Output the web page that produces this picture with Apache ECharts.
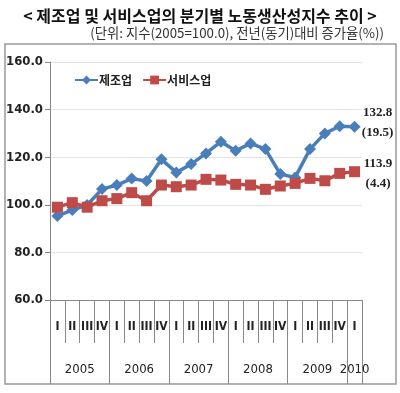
<!DOCTYPE html>
<html><head><meta charset="utf-8">
<script src="https://cdn.jsdelivr.net/npm/echarts@6/dist/echarts.min.js"></script>
<style>html,body{margin:0;padding:0;background:#fff}#c{width:400px;height:393px}</style>
</head><body><div id="c"></div>
<script>
var quarters = ['I','II','III','IV','I','II','III','IV','I','II','III','IV','I','II','III','IV','I','II','III','IV','I'];
var years = ['2005','2006','2007','2008','2009','2010'];
var quartersPerYear = [4,4,4,4,4,1];
var manufacturing = [95.3, 97.8, 99.9, 106.6, 108.3, 111.0, 110.0, 119.1, 113.6, 117.1, 121.6, 126.5, 122.7, 125.8, 123.4, 112.9, 111.5, 123.4, 130.0, 133.0, 132.8];
var services = [99.0, 100.9, 99.0, 101.7, 102.6, 105.1, 101.7, 108.3, 107.6, 108.3, 110.7, 110.4, 108.6, 108.3, 106.5, 107.9, 109.0, 111.1, 110.1, 113.2, 113.9];
var growthManufacturing = '19.5';
var growthServices = '4.4';
var yTicks = [60, 80, 100, 120, 140, 160];

var boundaries = [0], centers = [], acc = 0;
quartersPerYear.forEach(function(n){ centers.push(acc + n/2); acc += n; boundaries.push(acc); });

function lastLabel(data, growth, off){
  return data.map(function(v, i){
    if (i !== data.length - 1) return v;
    return {value: v, label: {show: true, position: 'right', distance: 0, align: 'center', offset: off,
      formatter: v.toFixed(1) + '\n(' + growth + ')', fontFamily: 'Liberation Serif', fontWeight: 'bold',
      fontSize: 13, lineHeight: 20, color: '#222'}};
  });
}

var chart = echarts.init(document.getElementById('c'), null, {renderer: 'canvas'});
chart.setOption({
  animation: false,
  title: [{
    text: '< 제조업 및 서비스업의 분기별 노동생산성지수 추이 >', left: 'center', top: 3,
    textStyle: {fontFamily: 'Noto Sans CJK KR', fontSize: 16, fontWeight: 'bold', color: '#111'}
  }, {
    text: '(단위: 지수(2005=100.0), 전년(동기)대비 증가율(%))', right: 11, top: 21,
    textStyle: {fontFamily: 'Noto Sans CJK KR', fontSize: 13.3, fontWeight: 'normal', color: '#333'}
  }],
  graphic: [{type: 'rect', shape: {x: 5, y: 44, width: 391, height: 340},
    style: {fill: 'none', stroke: '#999', lineWidth: 1.5}, silent: true}],
  legend: {
    left: 69, top: 69, itemWidth: 23, itemHeight: 11, itemGap: 10,
    textStyle: {fontFamily: 'Noto Sans CJK KR', fontSize: 12, fontWeight: 'bold', color: '#222', padding: [0, 0, 0, -4]},
    data: ['제조업', '서비스업']
  },
  grid: {left: 50, right: 38, top: 62, bottom: 93, containLabel: false},
  xAxis: [{
    type: 'category', data: quarters, boundaryGap: true, position: 'bottom',
    axisLine: {show: true, lineStyle: {color: '#888', width: 1}},
    axisTick: {show: true, interval: 0, length: 43, lineStyle: {color: '#888'}},
    axisLabel: {interval: 0, margin: 21, fontFamily: 'DejaVu Sans Condensed', fontWeight: 'bold', fontSize: 12, color: '#222'},
    splitLine: {show: false}
  }, {
    type: 'value', min: 0, max: quarters.length, position: 'bottom',
    axisLine: {show: false},
    axisTick: {show: true, customValues: boundaries, length: 84, lineStyle: {color: '#888'}},
    axisLabel: {customValues: centers, margin: 63, fontFamily: 'DejaVu Sans Condensed', fontSize: 13, color: '#222',
      formatter: function(v){ var i = centers.indexOf(v); return i >= 0 ? years[i] : ''; }},
    splitLine: {show: false}
  }],
  yAxis: {
    type: 'value', min: yTicks[0], max: yTicks[yTicks.length-1], interval: 20,
    axisLine: {show: true, lineStyle: {color: '#888'}},
    axisTick: {show: true, length: 5, lineStyle: {color: '#888'}},
    axisLabel: {margin: 7, formatter: function(v){ return v.toFixed(1); }, fontFamily: 'DejaVu Sans Condensed', fontWeight: 'bold', fontSize: 13, color: '#222'},
    splitLine: {show: true, lineStyle: {color: '#e3e3e3', width: 1}}
  },
  series: [{
    name: '제조업', type: 'line', xAxisIndex: 0, data: lastLabel(manufacturing, growthManufacturing, [17, -4]),
    symbol: 'diamond', symbolSize: 12, color: '#4A7EBB',
    lineStyle: {width: 3.5, color: '#4A7EBB'}, itemStyle: {color: '#4A7EBB'}
  }, {
    name: '서비스업', type: 'line', xAxisIndex: 0, data: lastLabel(services, growthServices, [18, 2]),
    symbol: 'rect', symbolSize: 11, color: '#BE4B48',
    lineStyle: {width: 3.5, color: '#BE4B48'}, itemStyle: {color: '#BE4B48'}
  }]
});
</script></body></html>
